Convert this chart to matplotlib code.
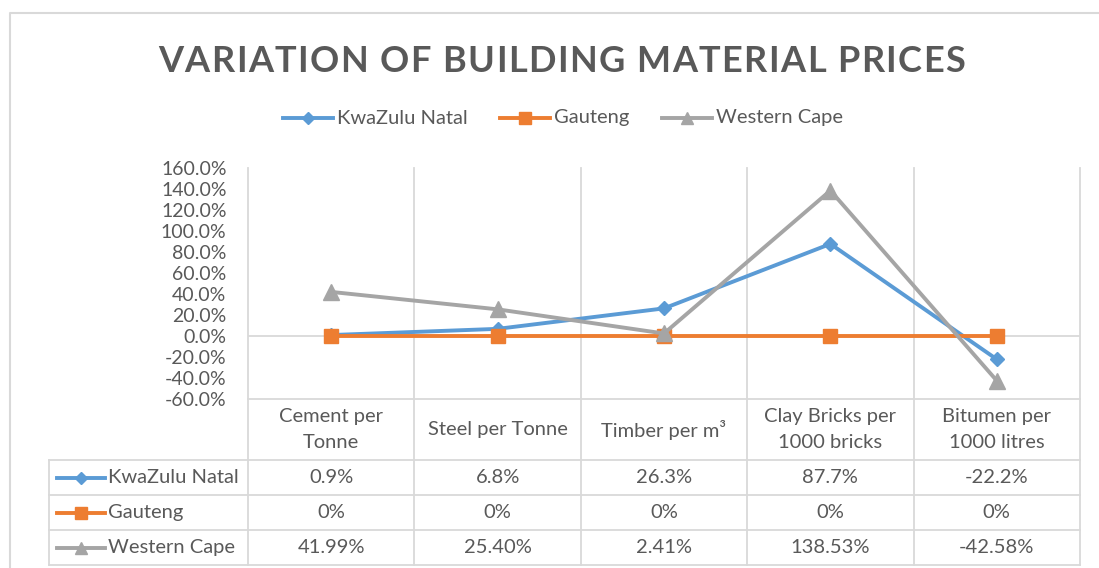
import matplotlib
matplotlib.use("Agg")
import matplotlib.pyplot as plt

# ---------------- data ----------------
categories = ["Cement per\nTonne", "Steel per Tonne", "Timber per m\u00b3",
              "Clay Bricks per\n1000 bricks", "Bitumen per\n1000 litres"]
series_names = ["KwaZulu Natal", "Gauteng", "Western Cape"]
kzn = [0.9, 6.8, 26.3, 87.7, -22.2]
gauteng = [0, 0, 0, 0, 0]
wcape = [41.99, 25.40, 2.41, 138.53, -42.58]
kzn_labels = ["0.9%", "6.8%", "26.3%", "87.7%", "-22.2%"]
gauteng_labels = ["0%", "0%", "0%", "0%", "0%"]
wcape_labels = ["41.99%", "25.40%", "2.41%", "138.53%", "-42.58%"]
yticks = [-60, -40, -20, 0, 20, 40, 60, 80, 100, 120, 140, 160]
title = "VARIATION OF BUILDING MATERIAL PRICES"

# ---------------- style ----------------
FONT = "Lato"
TXT = "#595959"
GRID = "#D9D9D9"
colors = ["#5B9BD5", "#ED7D31", "#A5A5A5"]
markers = ["D", "s", "^"]
msizes = [7.5, 10.5, 11]
LW = 2.8
FS = 14.5
FS_TICK = 14

plt.rcParams["font.family"] = [FONT, "DejaVu Sans"]

W, H = 1099, 568
fig = plt.figure(figsize=(W / 100, H / 100), dpi=100)

# overlay axes in pixel coordinates (y down)
ov = fig.add_axes([0, 0, 1, 1], zorder=0)
ov.set_xlim(0, W)
ov.set_ylim(H, 0)
ov.axis("off")

# plot area
px_l, px_r, px_t, px_b = 248, 1080, 168, 399
ax = fig.add_axes([px_l / W, 1 - px_b / H, (px_r - px_l) / W, (px_b - px_t) / H], zorder=2)
ax.patch.set_alpha(0)
n = len(categories)
ax.set_xlim(-0.5, n - 0.5)
ax.set_ylim(-60, 160)
for s in ax.spines.values():
    s.set_visible(False)
ax.set_xticks([])
ax.set_yticks(yticks)
ax.set_yticklabels([f"{v:.1f}%" for v in yticks])
ax.tick_params(axis="y", length=0, pad=15.5, labelsize=FS_TICK, labelcolor=TXT)

ax.axhline(0, color=GRID, lw=1.3, zorder=1)

all_series = [kzn, gauteng, wcape]
x = list(range(n))
for vals, c, m, ms in zip(all_series, colors, markers, msizes):
    ax.plot(x, vals, color=c, lw=LW, marker=m, markersize=ms,
            markerfacecolor=c, markeredgecolor=c, zorder=3, solid_capstyle="round")

fig.canvas.draw()

def to_px(xd, yd):
    xx, yy = ax.transData.transform((xd, yd))
    return xx, H - yy

# chart border (left/top)
ov.plot([10, 10, W], [H, 13, 13], color=GRID, lw=1.5)

# table geometry
bounds = [to_px(i - 0.5, 0)[0] for i in range(n + 1)]
y_axis_bottom = to_px(0, -60)[1]
hdr_top = y_axis_bottom
hdr_bot = 460
row_h = 35
rows_y = [hdr_bot + k * row_h for k in range(4)]
tbl_left = 49

# vertical grid/table lines
for bx in bounds:
    ov.plot([bx, bx], [px_t, rows_y[-1]], color=GRID, lw=1.3)
ov.plot([tbl_left, tbl_left], [hdr_bot, rows_y[-1]], color=GRID, lw=1.3)
# horizontal lines
ov.plot([bounds[0], bounds[-1]], [hdr_top, hdr_top], color=GRID, lw=1.3)
for ry in rows_y:
    ov.plot([tbl_left, bounds[-1]], [ry, ry], color=GRID, lw=1.3)

# header labels
centers = [to_px(i, 0)[0] for i in range(n)]
for cx, lab in zip(centers, categories):
    ov.text(cx, (hdr_top + hdr_bot) / 2, lab, ha="center", va="center",
            fontsize=FS, color=TXT, linespacing=1.6)

# table rows
row_labels = [kzn_labels, gauteng_labels, wcape_labels]
for k, (name, labs, c, m, ms) in enumerate(zip(series_names, row_labels, colors, markers, msizes)):
    yc = rows_y[k] + row_h / 2
    ov.plot([57, 105], [yc, yc], color=c, lw=LW)
    ov.plot([81], [yc], marker=m, markersize=ms * 0.85, color=c)
    ov.text(108, yc, name, ha="left", va="center", fontsize=FS, color=TXT)
    for cx, t in zip(centers, labs):
        ov.text(cx, yc, t, ha="center", va="center", fontsize=FS, color=TXT)

# legend
leg_y = 118
leg_lines = [283, 500, 662]
for lx, name, c, m, ms in zip(leg_lines, series_names, colors, markers, msizes):
    ov.plot([lx, lx + 50], [leg_y, leg_y], color=c, lw=LW)
    ov.plot([lx + 25], [leg_y], marker=m, markersize=ms * 0.85, color=c)
    ov.text(lx + 54, leg_y, name, ha="left", va="center", fontsize=FS, color=TXT)

# title with letter spacing
renderer = fig.canvas.get_renderer()
t_left, t_right, t_y = 158, 965, 61
TFS = 26
widths = []
tmp = []
for ch in title:
    t = ov.text(0, t_y, ch, fontsize=TFS, fontweight="bold", color=TXT, ha="left", va="center")
    bb = t.get_window_extent(renderer)
    w = bb.width if ch != " " else None
    tmp.append(t)
    widths.append(w)
a1 = ov.text(0, 0, "a a", fontsize=TFS, fontweight="bold")
a2 = ov.text(0, 0, "aa", fontsize=TFS, fontweight="bold")
space_w = a1.get_window_extent(renderer).width - a2.get_window_extent(renderer).width
a1.remove()
a2.remove()
widths = [w if w is not None else space_w for w in widths]
total = sum(widths)
gap = (t_right - t_left - total) / (len(title) - 1)
xpos = t_left
for t, w in zip(tmp, widths):
    t.set_x(xpos)
    xpos += w + gap

fig.savefig("out.png", dpi=100)
